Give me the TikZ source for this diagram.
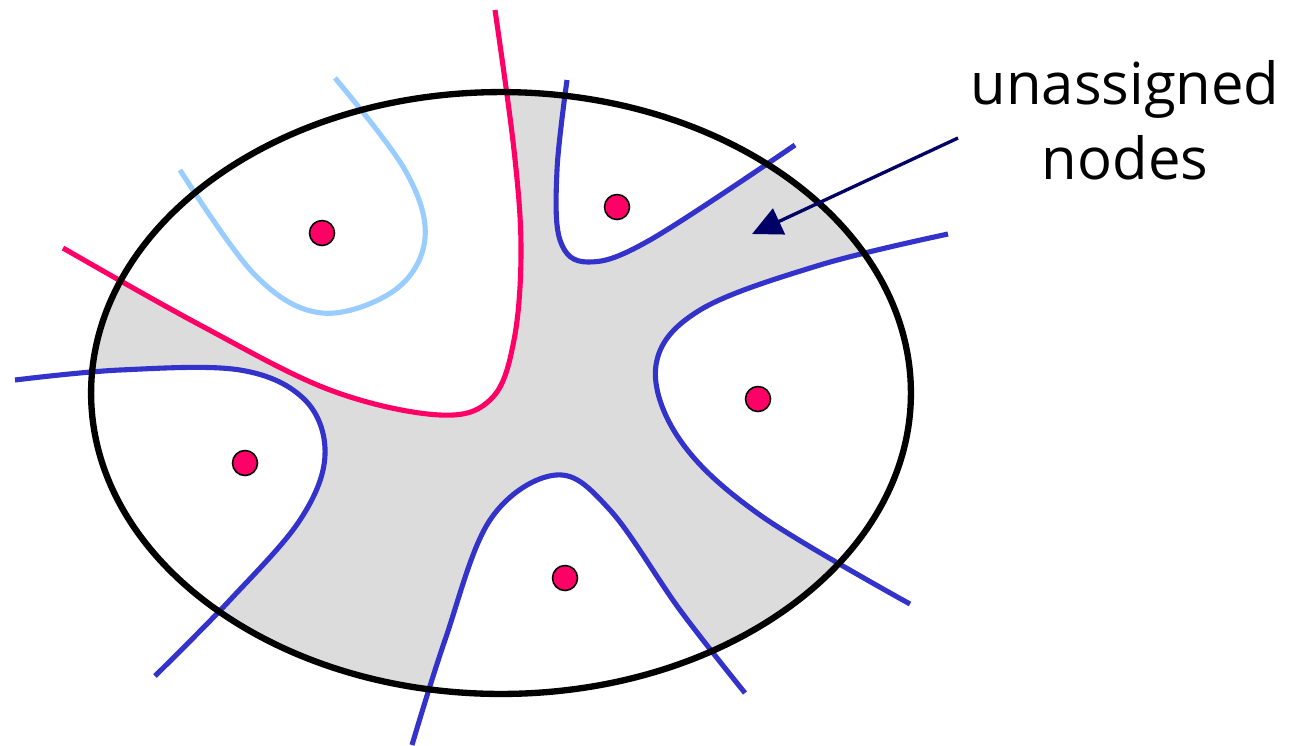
\documentclass[tikz,border=0pt]{standalone}
\usepackage{fontspec}
\usepackage{tikz}
\usetikzlibrary{arrows.meta}
\newfontfamily\labelfont{Open Sans}
\definecolor{cutred}{HTML}{FF0066}
\definecolor{cutblue}{HTML}{3333CC}
\definecolor{cutsky}{HTML}{99CCFF}
\definecolor{freegrey}{HTML}{DCDCDC}
\definecolor{navy}{HTML}{000066}
\begin{document}
\begin{tikzpicture}[
 x=0.02cm,y=-0.02cm,
 cut/.style={line width=2.9pt,line cap=butt},
 vertex/.style={circle,draw=black,fill=cutred,line width=0.9pt,minimum size=0.5cm,inner sep=0pt},
 pointer/.style={-{Triangle[length=17pt,width=16pt]},draw=navy,fill=navy,line width=1.9pt},
 every plot/.style={smooth,tension=0.6}
]
\useasboundingbox (0,0) rectangle (1294,745);
% grey area = nodes not yet assigned
\fill[freegrey] (501,393) ellipse [x radius=8.2cm,y radius=6.02cm];
\begin{scope}
 \clip (501,393) ellipse [x radius=8.2cm,y radius=6.02cm];
 \fill[white] plot coordinates {(63,248) (200,325) (330,390) (440,415) (492,398) (514,340) (521,250) (514,150) (495,10)} -- (0,10) -- (0,248) -- cycle;
 \fill[white] plot coordinates {(567,80) (557,170) (560,240) (588,262) (650,240) (795,145)} -- (795,0) -- (567,0) -- cycle;
 \fill[white] plot coordinates {(948,234) (820,265) (700,310) (656,365) (680,440) (760,515) (910,604)} -- (1000,604) -- (1000,234) -- cycle;
 \fill[white] plot coordinates {(412,745) (445,640) (490,520) (556,475) (610,510) (680,610) (745,693)} -- (745,760) -- (412,760) -- cycle;
 \fill[white] plot coordinates {(15,380) (120,370) (240,370) (305,400) (325,455) (300,520) (230,600) (155,676)} -- (0,676) -- (0,380) -- cycle;
\end{scope}
% cut lines
\draw[cut,cutsky] plot coordinates {(180,170) (255,275) (322,313) (395,290) (425,238) (405,170) (335,78)};
\draw[cut,cutred] plot coordinates {(63,248) (200,325) (330,390) (440,415) (492,398) (514,340) (521,250) (514,150) (495,10)};
\draw[cut,cutblue] plot coordinates {(567,80) (557,170) (560,240) (588,262) (650,240) (795,145)};
\draw[cut,cutblue] plot coordinates {(948,234) (820,265) (700,310) (656,365) (680,440) (760,515) (910,604)};
\draw[cut,cutblue] plot coordinates {(412,745) (445,640) (490,520) (556,475) (610,510) (680,610) (745,693)};
\draw[cut,cutblue] plot coordinates {(15,380) (120,370) (240,370) (305,400) (325,455) (300,520) (230,600) (155,676)};
\draw[line width=3.6pt] (501,393) ellipse [x radius=8.2cm,y radius=6.02cm];
% assigned nodes
\node[vertex] (n1) at (322,233) {};
\node[vertex] (n2) at (617,207) {};
\node[vertex] (n3) at (758,399) {};
\node[vertex] (n4) at (245,463) {};
\node[vertex] (n5) at (565,578) {};
\node[align=center,font=\labelfont\fontsize{33}{42.5}\selectfont] (lbl) at (1125,120) {unassigned\\nodes};
\coordinate (tail) at (958,138);
\coordinate (gap) at (752,234);
\draw[pointer] (tail) -- (gap);
\end{tikzpicture}
\end{document}
